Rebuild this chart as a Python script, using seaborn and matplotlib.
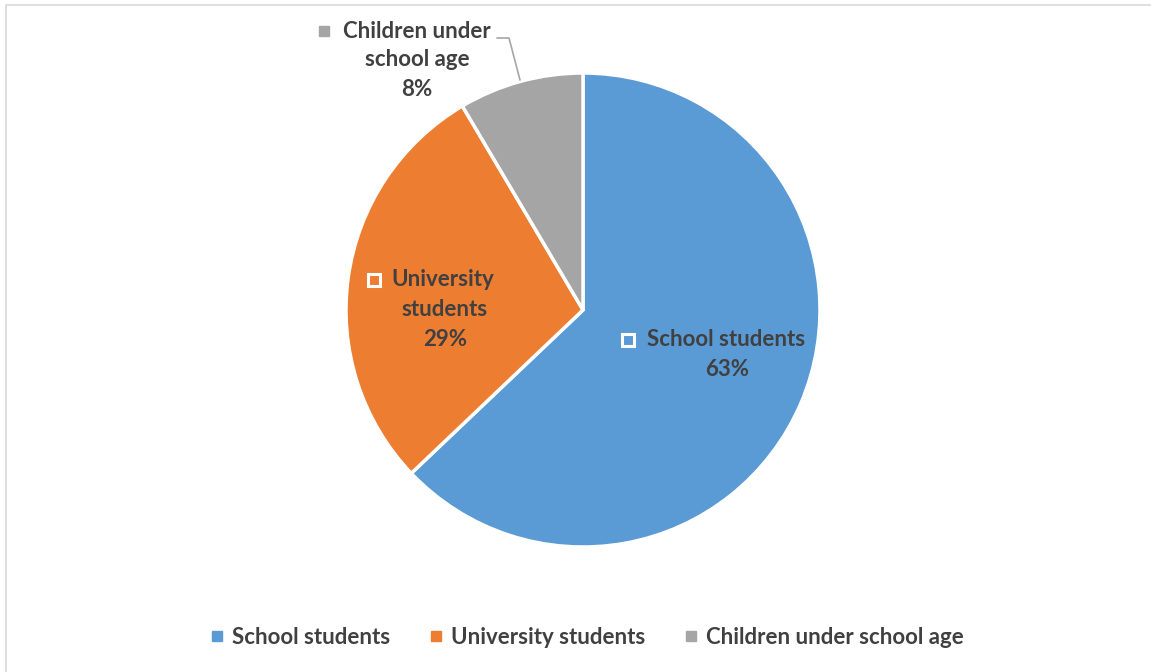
import matplotlib
matplotlib.use("Agg")
import matplotlib.pyplot as plt
import seaborn as sns
from matplotlib.lines import Line2D

categories = ["School students", "University students", "Children under school age"]
values = [62.9, 28.6, 8.5]
pct_labels = ["63%", "29%", "8%"]
colors = ["#5B9BD5", "#ED7D31", "#A5A5A5"]

sns.set_theme(style="white")
plt.rcParams['font.family'] = ['Lato', 'DejaVu Sans']

W, H = 1151, 672
FS = 16
fig = plt.figure(figsize=(W / 100, H / 100), dpi=100)
fig.patch.set_facecolor("white")

# border (left & top visible)
border = plt.Rectangle((6 / W, -0.1), 1.2, (H - 5) / H + 0.1, transform=fig.transFigure,
                       fill=False, edgecolor="#D9D9D9", linewidth=1.2)
fig.add_artist(border)

cx, cy, R = 583, 310, 237
ax = fig.add_axes([(cx - R) / W, (H - cy - R) / H, 2 * R / W, 2 * R / H])
ax.pie(values, colors=colors, startangle=90, counterclock=False, radius=1.0,
       wedgeprops=dict(edgecolor="white", linewidth=2.5))
ax.set_xlim(-1, 1)
ax.set_ylim(-1, 1)
ax.set_aspect("equal")
ax.axis("off")

def d(px, py):
    return (px - cx) / R, (cy - py) / R

txt = dict(ha="center", va="center", fontsize=FS, fontweight="bold", color="#404040")

# School students label
ax.text(*d(726, 340), categories[0], **txt)
ax.text(*d(727, 370), pct_labels[0], **txt)
ax.plot(*d(628, 340), marker="s", ms=8, mfc="none", mec="white", mew=2.2, ls="none")

# University label
ax.text(*d(443, 280), "University", **txt)
ax.text(*d(445, 310), "students", **txt)
ax.text(*d(445, 340), pct_labels[1], **txt)
ax.plot(*d(374, 280), marker="s", ms=8, mfc="none", mec="white", mew=2.2, ls="none")

# Children label (outside)
ax.text(*d(417, 31), "Children under", clip_on=False, **txt)
ax.text(*d(417, 60), "school age", clip_on=False, **txt)
ax.text(*d(417, 90), pct_labels[2], clip_on=False, **txt)
ax.plot(*d(324, 31), marker="s", ms=6.5, mfc=colors[2], mec=colors[2], ls="none", clip_on=False)
pts = [d(497, 38), d(509, 38), d(520, 80)]
ax.plot([p[0] for p in pts], [p[1] for p in pts], color="#A6A6A6", lw=1.2, clip_on=False)

handles = [Line2D([0], [0], marker="s", ls="none", ms=6.5, mfc=c, mec=c) for c in colors]
leg = fig.legend(handles, categories, loc="center", bbox_to_anchor=(587 / W, 1 - 637 / H),
                 ncol=3, frameon=False, handlelength=0.6, handletextpad=0.35,
                 columnspacing=1.78, prop=dict(family=['Lato', 'DejaVu Sans'], size=FS, weight="bold"))
for t in leg.get_texts():
    t.set_color("#404040")

fig.savefig("out.png", dpi=100, facecolor="white")
